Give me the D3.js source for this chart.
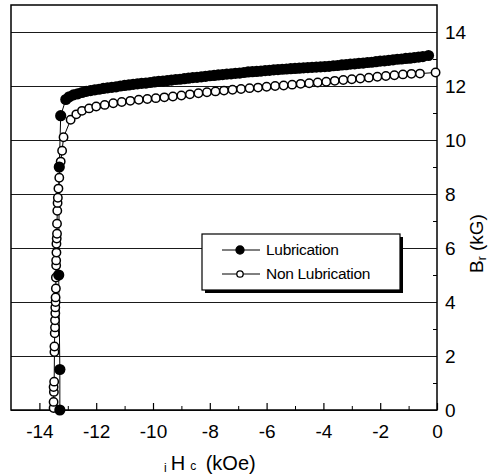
<!DOCTYPE html>
<html>
<head>
<meta charset="utf-8">
<script src="https://cdn.jsdelivr.net/npm/d3@7"></script>
<style>
  html, body { margin: 0; padding: 0; background: #fff; }
  svg { display: block; font-family: "Liberation Sans", Arial, sans-serif; }
</style>
</head>
<body>
<svg id="chart" width="491" height="474"></svg>
<script>
// series names
const seriesNames = ['Lubrication', 'Non Lubrication'];

// Lubrication (filled circles): [iHc (kOe), Br (kG)]
const lubPoints = [
  [-13.28, 0.0], [-13.28, 1.5], [-13.32, 5.0], [-13.3, 9.0], [-13.25, 10.9],
  [-13.07, 11.5], [-12.95, 11.6], [-12.8, 11.67], [-12.65, 11.71], [-12.5, 11.76],
  [-12.35, 11.8], [-12.2, 11.83], [-12.05, 11.86], [-11.9, 11.88], [-11.75, 11.91],
  [-11.6, 11.93], [-11.45, 11.95], [-11.3, 11.97], [-11.15, 12.0], [-11.0, 12.02],
  [-10.85, 12.04], [-10.7, 12.06], [-10.55, 12.08], [-10.4, 12.1], [-10.25, 12.11],
  [-10.1, 12.13], [-9.95, 12.15], [-9.8, 12.17], [-9.65, 12.18], [-9.5, 12.2],
  [-9.35, 12.22], [-9.2, 12.24], [-9.05, 12.25], [-8.9, 12.27], [-8.75, 12.29],
  [-8.6, 12.31], [-8.45, 12.32], [-8.3, 12.34], [-8.15, 12.36], [-8.0, 12.38],
  [-7.85, 12.39], [-7.7, 12.41], [-7.55, 12.42], [-7.4, 12.44], [-7.25, 12.45],
  [-7.1, 12.47], [-6.95, 12.48], [-6.8, 12.5], [-6.65, 12.52], [-6.5, 12.53],
  [-6.35, 12.54], [-6.2, 12.55], [-6.05, 12.57], [-5.9, 12.58], [-5.75, 12.6],
  [-5.6, 12.61], [-5.45, 12.62], [-5.3, 12.63], [-5.15, 12.64], [-5.0, 12.65],
  [-4.85, 12.66], [-4.7, 12.67], [-4.55, 12.68], [-4.4, 12.69], [-4.25, 12.7],
  [-4.1, 12.71], [-3.95, 12.72], [-3.8, 12.73], [-3.65, 12.75], [-3.5, 12.76],
  [-3.35, 12.78], [-3.2, 12.79], [-3.05, 12.81], [-2.9, 12.82], [-2.75, 12.84],
  [-2.6, 12.85], [-2.45, 12.87], [-2.3, 12.88], [-2.15, 12.9], [-2.0, 12.92],
  [-1.85, 12.93], [-1.7, 12.95], [-1.55, 12.97], [-1.4, 12.99], [-1.25, 13.0],
  [-1.1, 13.02], [-0.95, 13.03], [-0.8, 13.05], [-0.65, 13.07], [-0.5, 13.09],
  [-0.3, 13.13]
];

// Non Lubrication (open circles): [iHc (kOe), Br (kG)]
const nonLubPoints = [
  [-13.5, 0.07], [-13.5, 0.3], [-13.49, 0.67], [-13.5, 0.85], [-13.48, 1.05],
  [-13.47, 2.15], [-13.47, 2.35], [-13.46, 2.84], [-13.45, 3.06], [-13.45, 3.32],
  [-13.44, 3.58], [-13.44, 3.8], [-13.43, 4.0], [-13.43, 4.17], [-13.42, 4.5],
  [-13.42, 4.91], [-13.41, 5.35], [-13.41, 5.54], [-13.4, 5.83], [-13.4, 6.16],
  [-13.39, 6.35], [-13.38, 6.53], [-13.38, 6.9], [-13.37, 7.38], [-13.36, 7.67],
  [-13.35, 7.86], [-13.33, 8.2], [-13.3, 8.6], [-13.25, 9.2], [-13.2, 9.6],
  [-13.15, 10.1],
  [-12.9, 10.75], [-12.7, 10.95], [-12.5, 11.08], [-12.25, 11.17], [-12.0, 11.24],
  [-11.7, 11.3], [-11.4, 11.36], [-11.1, 11.41], [-10.8, 11.45], [-10.5, 11.49],
  [-10.2, 11.52], [-9.9, 11.55], [-9.6, 11.58], [-9.3, 11.61], [-9.0, 11.65],
  [-8.7, 11.69], [-8.4, 11.73], [-8.1, 11.77], [-7.8, 11.8], [-7.5, 11.83],
  [-7.2, 11.86], [-6.9, 11.89], [-6.6, 11.92], [-6.3, 11.94], [-6.0, 11.97],
  [-5.7, 12.0], [-5.4, 12.02], [-5.1, 12.05], [-4.8, 12.08], [-4.5, 12.1],
  [-4.2, 12.13], [-3.9, 12.16], [-3.6, 12.19], [-3.3, 12.22], [-3.0, 12.25],
  [-2.7, 12.28], [-2.4, 12.31], [-2.1, 12.34], [-1.8, 12.37], [-1.5, 12.4],
  [-1.2, 12.43], [-0.9, 12.45], [-0.6, 12.46], [-0.05, 12.5]
];

// ticks
const xMajor = [-14, -12, -10, -8, -6, -4, -2, 0];
const xMinor = [-13, -11, -9, -7, -5, -3, -1];
const yMajor = [0, 2, 4, 6, 8, 10, 12, 14];
const yMinor = [1, 3, 5, 7, 9, 11, 13];

const svg = d3.select('#chart');
const m = { left: 11, right: 437, top: 5, bottom: 410 };
const x = d3.scaleLinear([-15, 0], [m.left, m.right]);
const y = d3.scaleLinear([0, 15], [m.bottom, m.top]);

// gridlines + right axis labels
const yAx = svg.append('g')
  .attr('transform', `translate(${m.right},0)`)
  .call(d3.axisRight(y).tickValues(yMajor).tickSize(-(m.right - m.left)).tickPadding(8).tickFormat(d3.format('d')));
yAx.select('.domain').remove();
yAx.selectAll('line').attr('stroke', '#1a1a1a').attr('stroke-width', 1);
yAx.selectAll('text').attr('font-size', 19).attr('fill', '#000').attr('font-family', null);

const yMin = svg.append('g')
  .attr('transform', `translate(${m.right},0)`)
  .call(d3.axisRight(y).tickValues(yMinor).tickSize(-4).tickFormat(''));
yMin.select('.domain').remove();
yMin.selectAll('line').attr('stroke', '#000');

// bottom axis
const xAx = svg.append('g')
  .attr('transform', `translate(0,${m.bottom})`)
  .call(d3.axisBottom(x).tickValues(xMajor).tickSize(-7).tickPadding(15).tickFormat(d3.format('d')));
xAx.select('.domain').remove();
xAx.selectAll('line').attr('stroke', '#000').attr('stroke-width', 1.2);
xAx.selectAll('text').attr('font-size', 19).attr('fill', '#000').attr('font-family', null)
  .text(d => d < 0 ? '-' + Math.abs(d) : d);

const xMin = svg.append('g')
  .attr('transform', `translate(0,${m.bottom})`)
  .call(d3.axisBottom(x).tickValues(xMinor).tickSize(-4).tickFormat(''));
xMin.select('.domain').remove();
xMin.selectAll('line').attr('stroke', '#000');

// frame
svg.append('rect')
  .attr('x', m.left).attr('y', m.top)
  .attr('width', m.right - m.left).attr('height', m.bottom - m.top)
  .attr('fill', 'none').attr('stroke', '#000').attr('stroke-width', 1.5);

// series
const line = d3.line().x(d => x(d[0])).y(d => y(d[1]));

svg.append('path').datum(nonLubPoints).attr('d', line)
  .attr('fill', 'none').attr('stroke', '#000').attr('stroke-width', 1);
svg.append('path').datum(lubPoints).attr('d', line)
  .attr('fill', 'none').attr('stroke', '#000').attr('stroke-width', 1);

svg.append('g').selectAll('circle').data(nonLubPoints).join('circle')
  .attr('cx', d => x(d[0])).attr('cy', d => y(d[1])).attr('r', 4.2)
  .attr('fill', '#fff').attr('stroke', '#000').attr('stroke-width', 1.5);

svg.append('g').selectAll('circle').data(lubPoints).join('circle')
  .attr('cx', d => x(d[0])).attr('cy', d => y(d[1])).attr('r', 5.6)
  .attr('fill', '#000');

// legend
const lg = svg.append('g');
lg.append('rect').attr('x', 205).attr('y', 237).attr('width', 198).attr('height', 56).attr('fill', '#000');
lg.append('rect').attr('x', 202).attr('y', 234).attr('width', 198).attr('height', 56)
  .attr('fill', '#fff').attr('stroke', '#000').attr('stroke-width', 1.2);
seriesNames.forEach((name, i) => {
  const cy = 250 + i * 24;
  lg.append('line').attr('x1', 222).attr('x2', 260).attr('y1', cy).attr('y2', cy)
    .attr('stroke', '#000').attr('stroke-width', 1);
  lg.append('circle').attr('cx', 240).attr('cy', cy).attr('r', i === 0 ? 4 : 3.2)
    .attr('fill', i === 0 ? '#000' : '#fff').attr('stroke', '#000').attr('stroke-width', 1.3);
  lg.append('text').attr('x', 266).attr('y', cy + 5).attr('font-size', 15.5)
    .attr('letter-spacing', -0.3).text(name);
});

// axis titles
const xt = svg.append('text').attr('x', 164).attr('y', 470).attr('font-size', 20);
xt.append('tspan').attr('font-size', 12).attr('dy', 2).text('i');
xt.append('tspan').attr('dy', -2).attr('dx', 4).text('H');
xt.append('tspan').attr('font-size', 12).attr('dx', 5).text('c');
xt.append('tspan').attr('dx', 4).text(' (kOe)');

const yt = svg.append('text').attr('transform', 'translate(483,273) rotate(-90)').attr('font-size', 19);
yt.append('tspan').text('B');
yt.append('tspan').attr('font-size', 12).attr('dy', 3).text('r');
yt.append('tspan').attr('dy', -3).text(' (kG)');
</script>
</body>
</html>
